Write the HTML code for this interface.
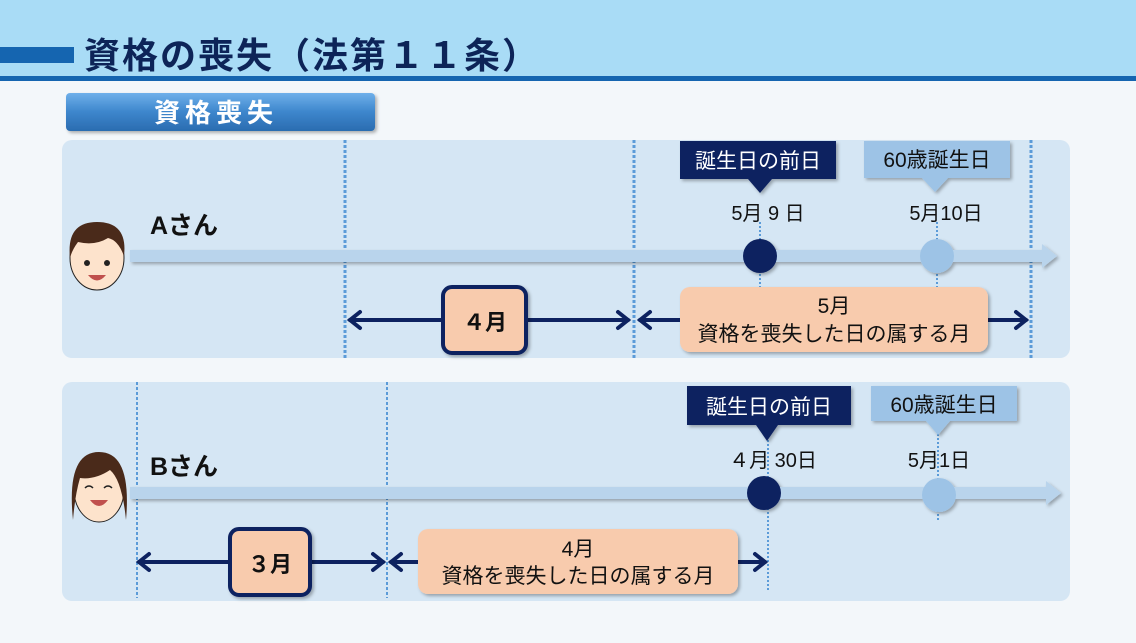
<!DOCTYPE html>
<html><head><meta charset="utf-8"><style>
html,body{margin:0;padding:0;}
body{width:1136px;height:638px;overflow:hidden;background:#f3f7fa;}
svg text{font-family:"Liberation Sans","Noto Sans CJK JP",sans-serif;}
</style></head><body>
<svg width="1136" height="638" viewBox="0 0 1136 638" xmlns="http://www.w3.org/2000/svg">
<defs>
<linearGradient id="btn" x1="0" y1="0" x2="0" y2="1"><stop offset="0" stop-color="#6fb0ea"/><stop offset="0.5" stop-color="#3d86cc"/><stop offset="1" stop-color="#2a6cb0"/></linearGradient>
<filter id="sh" x="-10%" y="-10%" width="130%" height="140%"><feDropShadow dx="2" dy="2" stdDeviation="1.5" flood-color="#000" flood-opacity="0.3"/></filter>
</defs>
<rect x="0" y="0" width="1136" height="76" fill="#a9dcf6"/>
<rect x="0" y="76" width="1136" height="5" fill="#1565b0"/>
<rect x="0" y="47" width="74" height="16" fill="#1565b0"/>
<text x="84" y="68" font-size="36" font-weight="bold" fill="#0d2458" letter-spacing="2">資格の喪失（法第１１条）</text>

<rect x="66" y="93" width="309" height="38" rx="4" fill="url(#btn)" filter="url(#sh)"/>
<text x="216" y="122" font-size="26" font-weight="bold" fill="#fff" text-anchor="middle" letter-spacing="5">資格喪失</text>

<!-- Panel A -->
<rect x="62" y="140" width="1008" height="218" rx="10" fill="#d5e6f4"/>
<g stroke="#5b9bd8" stroke-width="3" stroke-dasharray="3,2">
<line x1="345" y1="140" x2="345" y2="358"/><line x1="634" y1="140" x2="634" y2="358"/><line x1="1031" y1="140" x2="1031" y2="358"/>
</g>
<g stroke="#5b9bd8" stroke-width="2" stroke-dasharray="2,2">
<line x1="760" y1="222" x2="760" y2="290"/><line x1="937" y1="222" x2="937" y2="290"/>
</g>
<g filter="url(#sh)">
<rect x="130" y="250" width="912" height="12" fill="#b9d4ec"/>
<polygon points="1042,244 1057,256 1042,268" fill="#b9d4ec"/>
<circle cx="760" cy="256" r="17" fill="#0d2260"/>
<circle cx="937" cy="256" r="17" fill="#9dc3e6"/>
<polygon points="680,141 836,141 836,179 772,179 760,193 748,179 680,179" fill="#0d2260"/>
<polygon points="864,141 1010,141 1010,178 948,178 935,192 922,178 864,178" fill="#9dc3e6"/>
</g>
<text x="758" y="168" font-size="21" fill="#fff" text-anchor="middle">誕生日の前日</text>
<text x="937" y="167" font-size="21" fill="#111" text-anchor="middle">60歳誕生日</text>
<text x="768" y="220" font-size="20" fill="#111" text-anchor="middle">5月 9 日</text>
<text x="946" y="220" font-size="20" fill="#111" text-anchor="middle">5月10日</text>
<text x="150" y="234" font-size="25" font-weight="bold" fill="#111">Aさん</text>
<!-- face A -->
<g>
<ellipse cx="97" cy="258" rx="27" ry="32" fill="#fde3cc" stroke="#222" stroke-width="1"/>
<path d="M70,258 Q66,222 97,222 Q128,222 124,256 Q118,240 108,238 Q95,246 78,242 Q72,250 70,258Z" fill="#4a2a1a"/>
<circle cx="87" cy="263" r="3" fill="#222"/><circle cx="107" cy="263" r="3" fill="#222"/>
<path d="M88,275 Q97,286 106,275Z" fill="#c0504d"/>
</g>
<g stroke="#0d2260" stroke-width="4" fill="none" stroke-linecap="round">
<line x1="350" y1="320" x2="628" y2="320"/>
<polyline points="360,312 350,320 360,328"/><polyline points="618,312 628,320 618,328"/>
<line x1="640" y1="320" x2="1026" y2="320"/>
<polyline points="650,312 640,320 650,328"/><polyline points="1016,312 1026,320 1016,328"/>
</g>
<rect x="443" y="287" width="83" height="66" rx="9" fill="#f8cbad" stroke="#0d2260" stroke-width="4" filter="url(#sh)"/>
<text x="485" y="330" font-size="22" font-weight="bold" fill="#111" text-anchor="middle">４月</text>
<rect x="680" y="287" width="308" height="65" rx="10" fill="#f8cbad" filter="url(#sh)"/>
<text x="834" y="313" font-size="21" fill="#111" text-anchor="middle">5月</text>
<text x="834" y="341" font-size="21" fill="#111" text-anchor="middle">資格を喪失した日の属する月</text>

<!-- Panel B -->
<rect x="62" y="382" width="1008" height="219" rx="10" fill="#d5e6f4"/>
<g stroke="#5b9bd8" stroke-width="2" stroke-dasharray="3,2">
<line x1="137" y1="382" x2="137" y2="598"/><line x1="387" y1="382" x2="387" y2="598"/>
</g>
<g stroke="#5b9bd8" stroke-width="2" stroke-dasharray="2,2">
<line x1="768" y1="440" x2="768" y2="590"/><line x1="938" y1="434" x2="938" y2="520"/>
</g>
<g filter="url(#sh)">
<rect x="130" y="487" width="916" height="12" fill="#b9d4ec"/>
<polygon points="1046,481 1061,493 1046,505" fill="#b9d4ec"/>
<circle cx="764" cy="493" r="17" fill="#0d2260"/>
<circle cx="939" cy="495" r="17" fill="#9dc3e6"/>
<polygon points="687,386 851,386 851,425 778,425 767,441 756,425 687,425" fill="#0d2260"/>
<polygon points="871,386 1017,386 1017,421 950,421 938,435 926,421 871,421" fill="#9dc3e6"/>
</g>
<text x="769" y="414" font-size="21" fill="#fff" text-anchor="middle">誕生日の前日</text>
<text x="944" y="412" font-size="21" fill="#111" text-anchor="middle">60歳誕生日</text>
<text x="773" y="467" font-size="20" fill="#111" text-anchor="middle">４月 30日</text>
<text x="939" y="467" font-size="20" fill="#111" text-anchor="middle">5月1日</text>
<text x="150" y="475" font-size="25" font-weight="bold" fill="#111">Bさん</text>
<!-- face B -->
<g>
<ellipse cx="99" cy="490" rx="25" ry="32" fill="#fde3cc" stroke="#222" stroke-width="1"/>
<path d="M73,520 Q66,452 99,452 Q132,452 126,520 Q122,480 110,470 Q95,480 80,478 Q75,495 73,520Z" fill="#4a2a1a"/>
<path d="M85,488 Q89,484 93,488 M104,488 Q108,484 112,488" stroke="#222" stroke-width="1.5" fill="none"/>
<path d="M90,500 Q99,512 108,500Z" fill="#c0504d"/>
</g>
<g stroke="#0d2260" stroke-width="4" fill="none" stroke-linecap="round">
<line x1="139" y1="562" x2="383" y2="562"/>
<polyline points="149,554 139,562 149,570"/><polyline points="373,554 383,562 373,570"/>
<line x1="391" y1="562" x2="765" y2="562"/>
<polyline points="401,554 391,562 401,570"/><polyline points="755,554 765,562 755,570"/>
</g>
<rect x="230" y="529" width="80" height="66" rx="9" fill="#f8cbad" stroke="#0d2260" stroke-width="4" filter="url(#sh)"/>
<text x="270" y="572" font-size="22" font-weight="bold" fill="#111" text-anchor="middle">３月</text>
<rect x="418" y="529" width="320" height="65" rx="10" fill="#f8cbad" filter="url(#sh)"/>
<text x="578" y="556" font-size="21" fill="#111" text-anchor="middle">4月</text>
<text x="578" y="583" font-size="21" fill="#111" text-anchor="middle">資格を喪失した日の属する月</text>
</svg>
</body></html>
